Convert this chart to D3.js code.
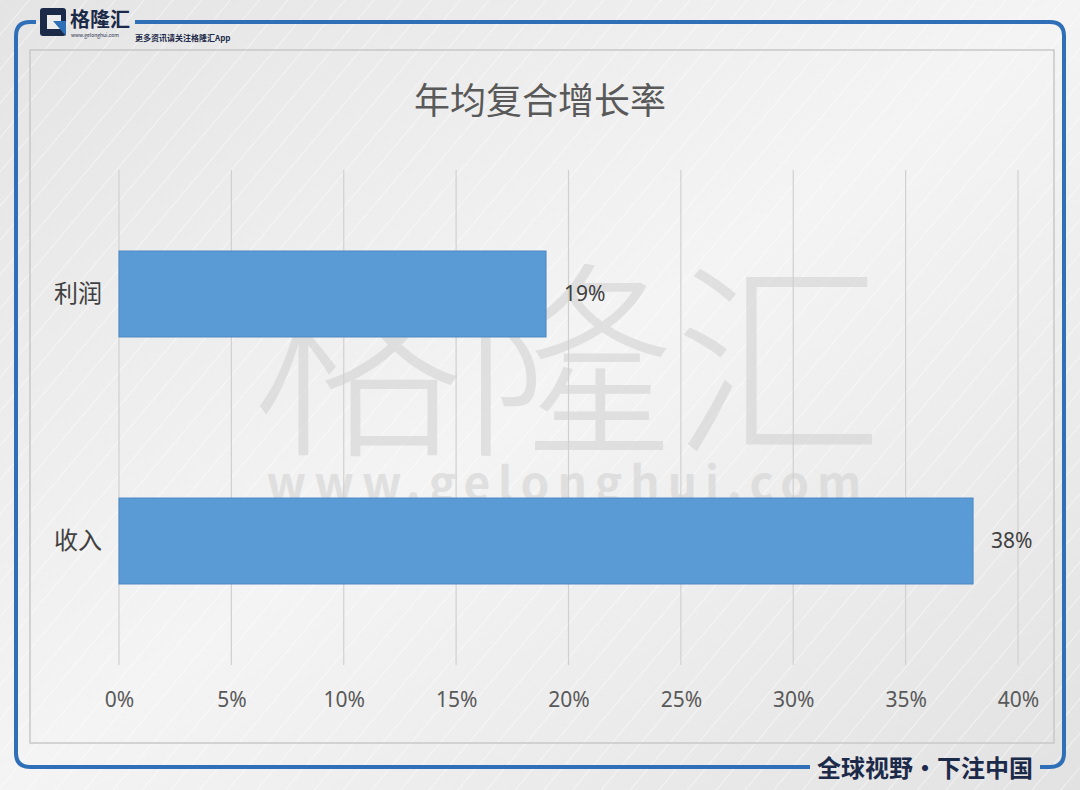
<!DOCTYPE html>
<html>
<head>
<meta charset="utf-8">
<script src="https://cdn.jsdelivr.net/npm/d3@7"></script>
<style>
  body { margin: 0; background: #ececec; }
  text { font-family: "Noto Sans CJK SC", "Noto Sans", sans-serif; }
</style>
</head>
<body>
<div id="chart"></div>
<script>
// Data
var categories = ["利润", "收入"];
var values = [0.19, 0.38];
var valueLabels = ["19%", "38%"];
var ticks = [0, 0.05, 0.10, 0.15, 0.20, 0.25, 0.30, 0.35, 0.40];

var W = 1080, H = 790;
var svg = d3.select("#chart").append("svg")
  .attr("width", W).attr("height", H);

// Background with diagonal stripes
var defs = svg.append("defs");
var grad = defs.append("linearGradient").attr("id", "bg")
  .attr("x1", 0).attr("y1", 0).attr("x2", 1).attr("y2", 1);
grad.append("stop").attr("offset", 0).attr("stop-color", "#e4e4e4");
grad.append("stop").attr("offset", 0.5).attr("stop-color", "#f4f4f4");
grad.append("stop").attr("offset", 1).attr("stop-color", "#e2e2e2");
var pat = defs.append("pattern").attr("id", "stripes")
  .attr("patternUnits", "userSpaceOnUse")
  .attr("width", 22).attr("height", 22)
  .attr("patternTransform", "rotate(40)");
pat.append("line").attr("x1", 0).attr("y1", 0).attr("x2", 0).attr("y2", 22)
  .attr("stroke", "#ffffff").attr("stroke-width", 1.2).attr("opacity", 0.8);

svg.append("rect").attr("width", W).attr("height", H).attr("fill", "url(#bg)");
svg.append("rect").attr("width", W).attr("height", H).attr("fill", "url(#stripes)");

// Blue frame
var blue = "#2f6fb7";
svg.append("path")
  .attr("d", "M135,22 H1050 Q1064,22 1064,36 V753 Q1064,767 1050,767 H1040")
  .attr("fill", "none").attr("stroke", blue).attr("stroke-width", 4);
svg.append("path")
  .attr("d", "M810,767 H30 Q16,767 16,753 V36 Q16,22 30,22 H36")
  .attr("fill", "none").attr("stroke", blue).attr("stroke-width", 4);

// Inner chart box
svg.append("rect")
  .attr("x", 30).attr("y", 50).attr("width", 1024).attr("height", 693)
  .attr("fill", "none").attr("stroke", "#c8c8c8").attr("stroke-width", 1.5);

// Logo
var logo = svg.append("g");
logo.append("rect").attr("x", 40).attr("y", 8).attr("width", 26).attr("height", 28)
  .attr("rx", 3).attr("fill", "#1c2a4a");
logo.append("rect").attr("x", 47).attr("y", 15).attr("width", 14).attr("height", 14)
  .attr("fill", "#ececec");
logo.append("path").attr("d", "M53,21 H66 V36 Z").attr("fill", "#2f6fb7");
logo.append("text").attr("x", 70).attr("y", 27)
  .attr("font-size", 20).attr("font-weight", "bold").attr("fill", "#1c2a4a").text("格隆汇");
logo.append("text").attr("x", 71).attr("y", 37)
  .attr("font-size", 5).attr("fill", "#1c2a4a").text("www.gelonghui.com");
logo.append("text").attr("x", 135).attr("y", 41)
  .attr("font-size", 8).attr("font-weight", "bold").attr("fill", "#1c2a4a").text("更多资讯请关注格隆汇App");

// Bottom slogan
svg.append("text").attr("x", 925).attr("y", 777)
  .attr("text-anchor", "middle").attr("font-size", 24).attr("font-weight", "bold")
  .attr("fill", "#1c2a4a").text("全球视野・下注中国");

// Watermark
svg.append("text").attr("x", 568).attr("y", 440)
  .attr("text-anchor", "middle").attr("font-size", 210).attr("font-weight", 300)
  .attr("fill", "#d0d0d0").attr("opacity", 0.55).text("格隆汇");
svg.append("text").attr("x", 568).attr("y", 500)
  .attr("text-anchor", "middle").attr("font-size", 46).attr("font-weight", "bold")
  .attr("letter-spacing", 8)
  .attr("fill", "#d0d0d0").attr("opacity", 0.55).text("www.gelonghui.com");

// Title
svg.append("text").attr("x", 540).attr("y", 114)
  .attr("text-anchor", "middle").attr("font-size", 36)
  .attr("fill", "#595959").text("年均复合增长率");

// Scales
var x = d3.scaleLinear().domain([0, 0.40]).range([119, 1018]);
var y = d3.scaleBand().domain(categories).range([170, 665]).paddingInner(0.652).paddingOuter(0.328);

// Gridlines
svg.append("g").selectAll("line").data(ticks).enter().append("line")
  .attr("x1", d => x(d)).attr("x2", d => x(d))
  .attr("y1", 170).attr("y2", 665)
  .attr("stroke", "#d0d0d0").attr("stroke-width", 1.2);

// X axis labels
var xAxis = svg.append("g").attr("transform", "translate(0,665)")
  .call(d3.axisBottom(x).tickValues(ticks).tickFormat(d3.format(".0%")).tickSize(0).tickPadding(27));
xAxis.select(".domain").remove();
xAxis.selectAll("text").attr("font-size", 21).attr("fill", "#595959")
  .style("font-family", "'Noto Sans', sans-serif");

// Y axis labels
var yAxis = svg.append("g").attr("transform", "translate(102,0)")
  .call(d3.axisLeft(y).tickSize(0).tickPadding(0));
yAxis.select(".domain").remove();
yAxis.selectAll("text").attr("font-size", 24).attr("fill", "#404040");

// Bars
svg.append("g").selectAll("rect").data(values).enter().append("rect")
  .attr("x", x(0))
  .attr("y", (d, i) => y(categories[i]))
  .attr("width", d => x(d) - x(0))
  .attr("height", y.bandwidth())
  .attr("fill", "#5b9bd5").attr("stroke", "#4a88c4").attr("stroke-width", 1);

// Value labels
svg.append("g").selectAll("text").data(values).enter().append("text")
  .attr("x", d => x(d) + 18)
  .attr("y", (d, i) => y(categories[i]) + y.bandwidth() / 2)
  .attr("dy", "0.35em")
  .attr("font-size", 21).attr("fill", "#404040")
  .style("font-family", "'Noto Sans', sans-serif")
  .text((d, i) => valueLabels[i]);
</script>
</body>
</html>
